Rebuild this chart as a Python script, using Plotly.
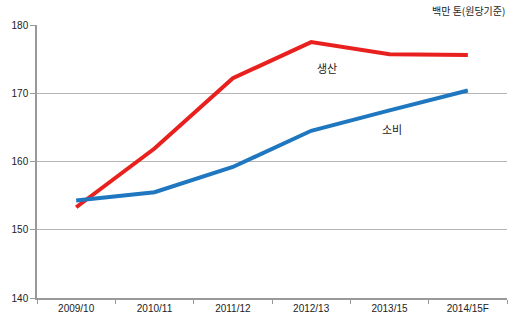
import plotly.graph_objects as go

categories = ["2009/10", "2010/11", "2011/12", "2012/13", "2013/15", "2014/15F"]
production = [153.3, 161.9, 172.2, 177.5, 175.7, 175.6]
consumption = [154.3, 155.5, 159.2, 164.5, 167.5, 170.4]
y_ticks = [140, 150, 160, 170, 180]

font_family = "Liberation Sans, Noto Sans CJK KR, sans-serif"

fig = go.Figure()
fig.add_trace(go.Scatter(x=categories, y=production, mode="lines", name="생산",
                         line=dict(color="#e8201e", width=4)))
fig.add_trace(go.Scatter(x=categories, y=consumption, mode="lines", name="소비",
                         line=dict(color="#1f77c0", width=4)))

fig.add_annotation(x=3.2, y=173.7, text="생산", showarrow=False,
                   font=dict(size=11, color="#222", family="Noto Sans CJK KR"))
fig.add_annotation(x=4.03, y=164.7, text="소비", showarrow=False,
                   font=dict(size=11, color="#222", family="Noto Sans CJK KR"))
fig.add_annotation(xref="paper", yref="paper", x=1.0, y=1.0, yshift=15,
                   xanchor="right", yanchor="middle", text="백만 톤(원당기준)",
                   showarrow=False, font=dict(size=10, color="#222", family="Noto Sans CJK KR"))

fig.update_layout(
    width=523, height=326,
    margin=dict(l=32, r=16, t=25, b=26),
    paper_bgcolor="white", plot_bgcolor="white",
    showlegend=False,
    font=dict(family=font_family, size=10, color="#222"),
    xaxis=dict(type="category", range=[-0.5, 5.5], tickson="boundaries",
               ticks="outside", ticklen=4, tickcolor="#999",
               showline=True, linecolor="#999", linewidth=1.5,
               showgrid=False, tickfont=dict(size=10)),
    yaxis=dict(range=[140, 180], tickvals=y_ticks, ticks="outside", ticklen=5,
               tickcolor="#999", showline=True, linecolor="#999", linewidth=1.5,
               showgrid=True, gridcolor="#b5b5b5", gridwidth=1,
               zeroline=False, tickfont=dict(size=10)),
)

fig.write_html("out.html")
